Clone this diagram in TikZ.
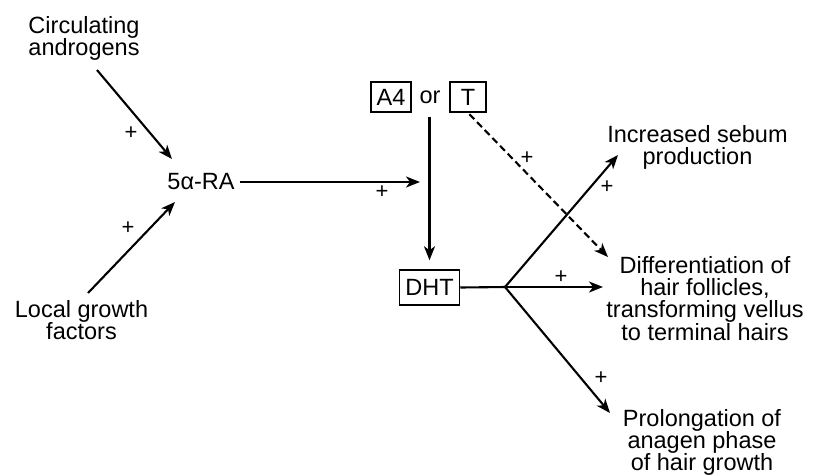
\documentclass[tikz,border=0pt]{standalone}
\usepackage{fontspec}
\setmainfont{Liberation Sans}
\usetikzlibrary{arrows.meta}
\begin{document}
\begin{tikzpicture}[x=1pt,y=-1pt,
  lbl/.style={font=\fontsize{23.5pt}{22.3pt}\selectfont, inner sep=0pt, align=center},
  boxn/.style={draw, line width=1.5pt, inner sep=0pt, font=\fontsize{23.5pt}{22.3pt}\selectfont, minimum height=30pt},
  plus/.style={font=\fontsize{22pt}{22pt}\selectfont, inner sep=0pt},
  arr/.style={line width=2.1pt, -{Stealth[length=14pt,width=11pt,inset=4pt]}},
  ln/.style={line width=2.1pt},
  ]
\useasboundingbox (0,0) rectangle (818,475);
% text nodes
\node[lbl, anchor=north] (circ) at (84,16) {Circulating\\androgens};
\node[lbl, anchor=north] (local) at (81.5,300) {Local growth\\factors};
\node[lbl, anchor=base] (ra) at (201,189) {5α-RA};
\node[boxn, minimum width=40pt] (a4) at (391,97) {A4};
\node[lbl] (or) at (430,97) {or};
\node[boxn, minimum width=36pt] (t) at (468,97) {T};
\node[boxn, minimum width=60pt, minimum height=35pt] (dht) at (429.5,287.5) {DHT};
\node[lbl, anchor=north] (sebum) at (697.5,125) {Increased sebum\\production};
\node[lbl, anchor=north] (diff) at (705,256) {Differentiation of\\hair follicles,\\transforming vellus\\to terminal hairs};
\node[lbl, anchor=north] (prol) at (702,409) {Prolongation of\\anagen phase\\of hair growth};
% coordinates
\coordinate (c1) at (97,70);
\coordinate (c2) at (172,159);
\coordinate (l1) at (88,293);
\coordinate (l2) at (175,202);
\coordinate (rastart) at (240,182);
\coordinate (raend) at (420,182);
\coordinate (j) at (505,287);
\coordinate (e1) at (618,155);
\coordinate (e2) at (603,287);
\coordinate (e3) at (610,413);
\coordinate (dend) at (608,257);
% connectors
\draw[arr] (c1) -- (c2);
\draw[arr] (l1) -- (l2);
\draw[arr] (rastart) -- (raend);
\draw[arr, shorten <=13pt, shorten >=9pt] (or.south -| dht.north) -- (dht.north);
\draw[ln] (dht.east) -- (j);
\draw[arr] (j) -- (e1);
\draw[arr] (j) -- (e2);
\draw[arr] (j) -- (e3);
\draw[arr, dash pattern=on 7pt off 4pt, shorten <=2pt] (t.south) -- (dend);
% plus signs
\node[plus] (p1) at (131,133) {+};
\node[plus] (p2) at (128,228) {+};
\node[plus] (p3) at (382,192) {+};
\node[plus] (p4) at (527,158) {+};
\node[plus] (p5) at (607,187) {+};
\node[plus] (p6) at (561,277) {+};
\node[plus] (p7) at (601,378) {+};
\end{tikzpicture}
\end{document}
